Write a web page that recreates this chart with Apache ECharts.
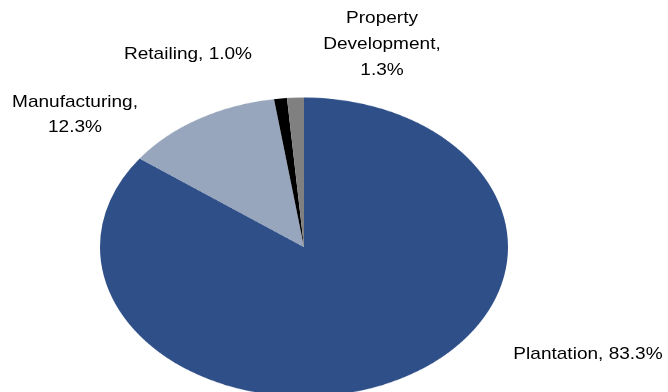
<!DOCTYPE html>
<html>
<head>
<meta charset="utf-8">
<script src="https://cdn.jsdelivr.net/npm/echarts@6/dist/echarts.min.js"></script>
<style>
  html, body { margin: 0; padding: 0; background: #ffffff; overflow: hidden; }
  #wrap { position: relative; width: 668px; height: 392px; overflow: hidden; }
  /* the pie is drawn as a circle and flattened into an oval */
  #pie { position: absolute; left: 0; top: 0; width: 668px; height: 535px;
         transform: scaleY(0.733); transform-origin: 0 0; }
  #labels { position: absolute; left: 0; top: 0; width: 668px; height: 392px; }
</style>
</head>
<body>
<div id="wrap">
  <div id="pie"></div>
  <div id="labels"></div>
</div>
<script>
// Revenue share by segment (%)
const segments = ['Plantation', 'Manufacturing', 'Retailing', 'Property Development'];
const shares = [83.3, 12.3, 1.0, 1.3];
const colors = ['#2F4F89', '#97A6BD', '#000000', '#808080'];

const FLATTEN = 0.733;

const pieChart = echarts.init(document.getElementById('pie'), null, { renderer: 'canvas' });
pieChart.setOption({
  animation: false,
  backgroundColor: 'transparent',
  series: [{
    type: 'pie',
    center: [304, 247 / FLATTEN],
    radius: [0, 204],
    startAngle: 90,
    clockwise: true,
    avoidLabelOverlap: false,
    label: { show: false },
    labelLine: { show: false },
    itemStyle: { borderWidth: 0 },
    emphasis: { disabled: true },
    data: segments.map((name, i) => ({
      name: name,
      value: shares[i],
      itemStyle: { color: colors[i] }
    }))
  }]
});

// Label placement: centre x, middle y of the first line, line step, and whether to wrap
const labelSpots = {
  'Plantation':           { x: 588, y: 354, step: 0,  wrap: false },
  'Manufacturing':        { x: 75,  y: 102, step: 25.5, wrap: true },
  'Retailing':            { x: 188, y: 54,  step: 0,  wrap: false },
  'Property Development': { x: 382, y: 18.5, step: 26, wrap: true }
};

function labelLines(name, value) {
  const pct = value.toFixed(1) + '%';
  if (!labelSpots[name].wrap) return [name + ', ' + pct];
  const words = name.split(' ');
  words[words.length - 1] += ',';
  return words.concat([pct]);
}

const texts = [];
segments.forEach((name, i) => {
  const spot = labelSpots[name];
  labelLines(name, shares[i]).forEach((line, k) => {
    texts.push({
      type: 'text',
      x: spot.x,
      y: spot.y + k * spot.step,
      scaleX: 1.12,
      silent: true,
      style: {
        text: line,
        font: '17px "Liberation Sans", Arial, sans-serif',
        fill: '#000000',
        align: 'center',
        verticalAlign: 'middle',
        textAlign: 'center',
        textVerticalAlign: 'middle'
      }
    });
  });
});

const labelChart = echarts.init(document.getElementById('labels'), null, { renderer: 'canvas' });
labelChart.setOption({
  animation: false,
  backgroundColor: 'transparent',
  graphic: { elements: texts }
});
</script>
</body>
</html>
